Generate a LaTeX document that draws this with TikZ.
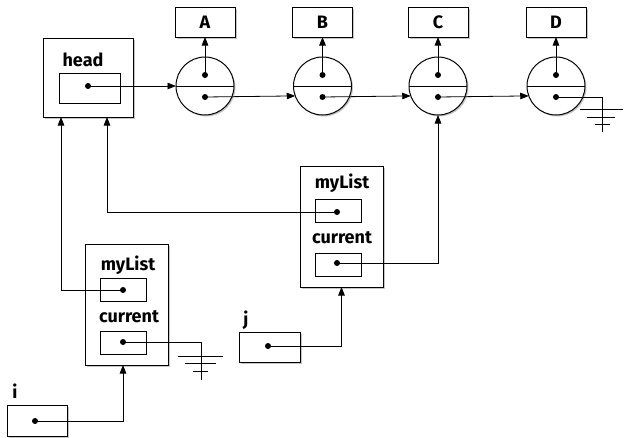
\documentclass[tikz,border=0pt]{standalone}
\usepackage{fontspec}
\setmainfont{Fira Sans}
\usetikzlibrary{shadows,arrows.meta,calc}
\begin{document}
\begin{tikzpicture}[x=1pt,y=-1pt,
  shad/.style={drop shadow={shadow xshift=1.5pt,shadow yshift=-1.5pt,opacity=0.45}},
  box/.style={draw,line width=1pt,fill=white,inner sep=0pt,outer sep=0pt,shad},
  inbox/.style={draw,line width=0.8pt,inner sep=0pt,outer sep=0pt,minimum width=46pt,minimum height=23pt},
  cell/.style={circle,draw,line width=1pt,fill=white,inner sep=0pt,outer sep=0pt,minimum size=58pt,shad},
  lbl/.style={font=\fontsize{18}{19}\selectfont\bfseries,inner sep=0pt},
  arr/.style={line width=0.8pt,-{Triangle[length=8.5pt,width=6.5pt]}},
  ln/.style={line width=0.8pt},
  dot/.style={fill=black}]
\useasboundingbox (0,0) rectangle (624,437);

% head
\node[box,minimum width=90pt,minimum height=79pt] (head) at (88,77.5) {};
\node[lbl] (headl) at (83,60) {head};
\node[inbox,minimum width=61pt,minimum height=30pt] (headin) at (89.5,88) {};
\coordinate (hdot) at (88,86);

% value boxes and cells
\foreach \n/\x in {A/205,B/322.5,C/438,D/556}{
  \node[box,minimum width=60pt,minimum height=30pt] (b\n) at (\x,22) {};
  \node[lbl] (b\n l) at (b\n) {\n};
  \node[cell] (c\n) at (\x,86) {};
  \draw[line width=0.8pt] (c\n.west) -- (c\n.east);
  \coordinate (c\n t) at (\x,75);
  \coordinate (c\n b) at (\x,97);
  \draw[arr] (c\n t) -- (b\n.south);
}
\foreach \n in {A,B,C,D}{
  \fill[dot] (c\n t) circle[radius=3pt];
  \fill[dot] (c\n b) circle[radius=3pt];
}
\fill[dot] (hdot) circle[radius=3pt];
\draw[arr] (hdot) -- (cA.west);
\draw[arr] (cAb) -- (cB.200);
\draw[arr] (cBb) -- (cC.200);
\draw[arr] (cCb) -- (cD.200);

% ground after D
\coordinate (gD) at (602,97);
\coordinate (gDe) at (602,132);
\draw[ln] (cDb) -- (gD) -- (gDe);
\draw[ln] (580,109) -- (623,109);
\draw[ln] (587,117) -- (615,117);
\draw[ln] (595,124) -- (610,124);

% lower-left frame
\node[box,minimum width=83pt,minimum height=121pt] (ll) at (126.5,304.5) {};
\node[lbl] (llm) at (128,265) {myList};
\node[lbl] (llc) at (129,317) {current};
\node[inbox] (ll1) at (123,289.5) {};
\node[inbox] (ll2) at (123,342.5) {};
\coordinate (ld1) at (123,290);
\coordinate (ld2) at (123,342);
\fill[dot] (ld1) circle[radius=3pt];
\fill[dot] (ld2) circle[radius=3pt];
\draw[arr] (ld1) -| ($(head.south west)+(18,0)$);
\coordinate (gL) at (201,342);
\coordinate (gLe) at (201,380);
\draw[ln] (ld2) -- (gL) -- (gLe);
\draw[ln] (178,356) -- (223,356);
\draw[ln] (185,363) -- (216,363);
\draw[ln] (193,371) -- (208,371);

% right frame
\node[box,minimum width=83pt,minimum height=121pt] (rr) at (341.5,226.5) {};
\node[lbl] (rrm) at (342,183) {myList};
\node[lbl] (rrc) at (342,238) {current};
\node[inbox] (rr1) at (338,210.5) {};
\node[inbox] (rr2) at (338,264.5) {};
\coordinate (rd1) at (337,212);
\coordinate (rd2) at (337,263);
\fill[dot] (rd1) circle[radius=3pt];
\fill[dot] (rd2) circle[radius=3pt];
\draw[arr] (rd1) -| ($(head.south west)+(64,0)$);
\draw[arr] (rd2) -| (cC.south);

% i
\node[lbl] (il) at (15,391) {i};
\node[box,minimum width=60pt,minimum height=31pt] (ib) at (37,420.5) {};
\coordinate (idot) at (35,421);
\fill[dot] (idot) circle[radius=3pt];
\draw[arr] (idot) -| (ll.south -| ld2);

% j
\node[lbl] (jl) at (246,320) {j};
\node[box,minimum width=61pt,minimum height=30pt] (jb) at (269.5,347) {};
\coordinate (jdot) at (268,346);
\fill[dot] (jdot) circle[radius=3pt];
\draw[arr] (jdot) -| (rr.south);
\end{tikzpicture}
\end{document}
